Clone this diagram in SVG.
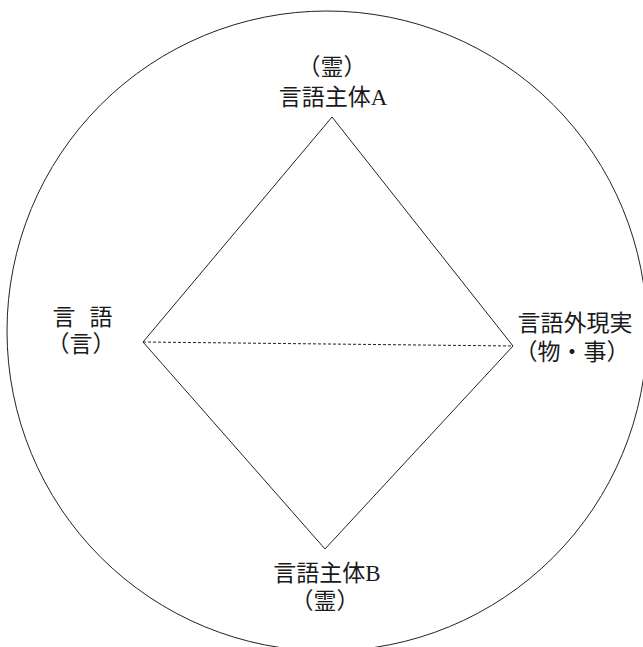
<svg xmlns="http://www.w3.org/2000/svg" width="643" height="647" viewBox="0 0 643 647">
<style>
.ln{fill:none;stroke:#222;stroke-width:1}
.t{font-family:"Liberation Serif","Noto Sans CJK JP",serif;font-size:23px;fill:#1a1a1a;text-anchor:middle}
</style>
<rect width="643" height="647" fill="#fff"/>
<circle id="circle" class="ln" cx="327" cy="331" r="320"/>
<g id="connectors">
<path class="ln" d="M332,117 L513,346 L325,549 L143,342 Z"/>
<line class="ln" x1="143" y1="342" x2="513" y2="346" stroke-dasharray="3,2"/>
</g>
<g id="nodeA"><text class="t" x="332" y="75">（霊）</text><text class="t" x="333" y="105">言語主体A</text></g>
<g id="nodeLang"><text class="t"><tspan x="64" y="325">言</tspan><tspan x="101" y="325">語</tspan></text><text class="t" x="81" y="352">（言）</text></g>
<g id="nodeReal"><text class="t" x="575" y="331">言語外現実</text><text class="t" x="572" y="360">（物・事）</text></g>
<g id="nodeB"><text class="t" x="327" y="581">言語主体B</text><text class="t" x="325" y="609">（霊）</text></g>
</svg>
